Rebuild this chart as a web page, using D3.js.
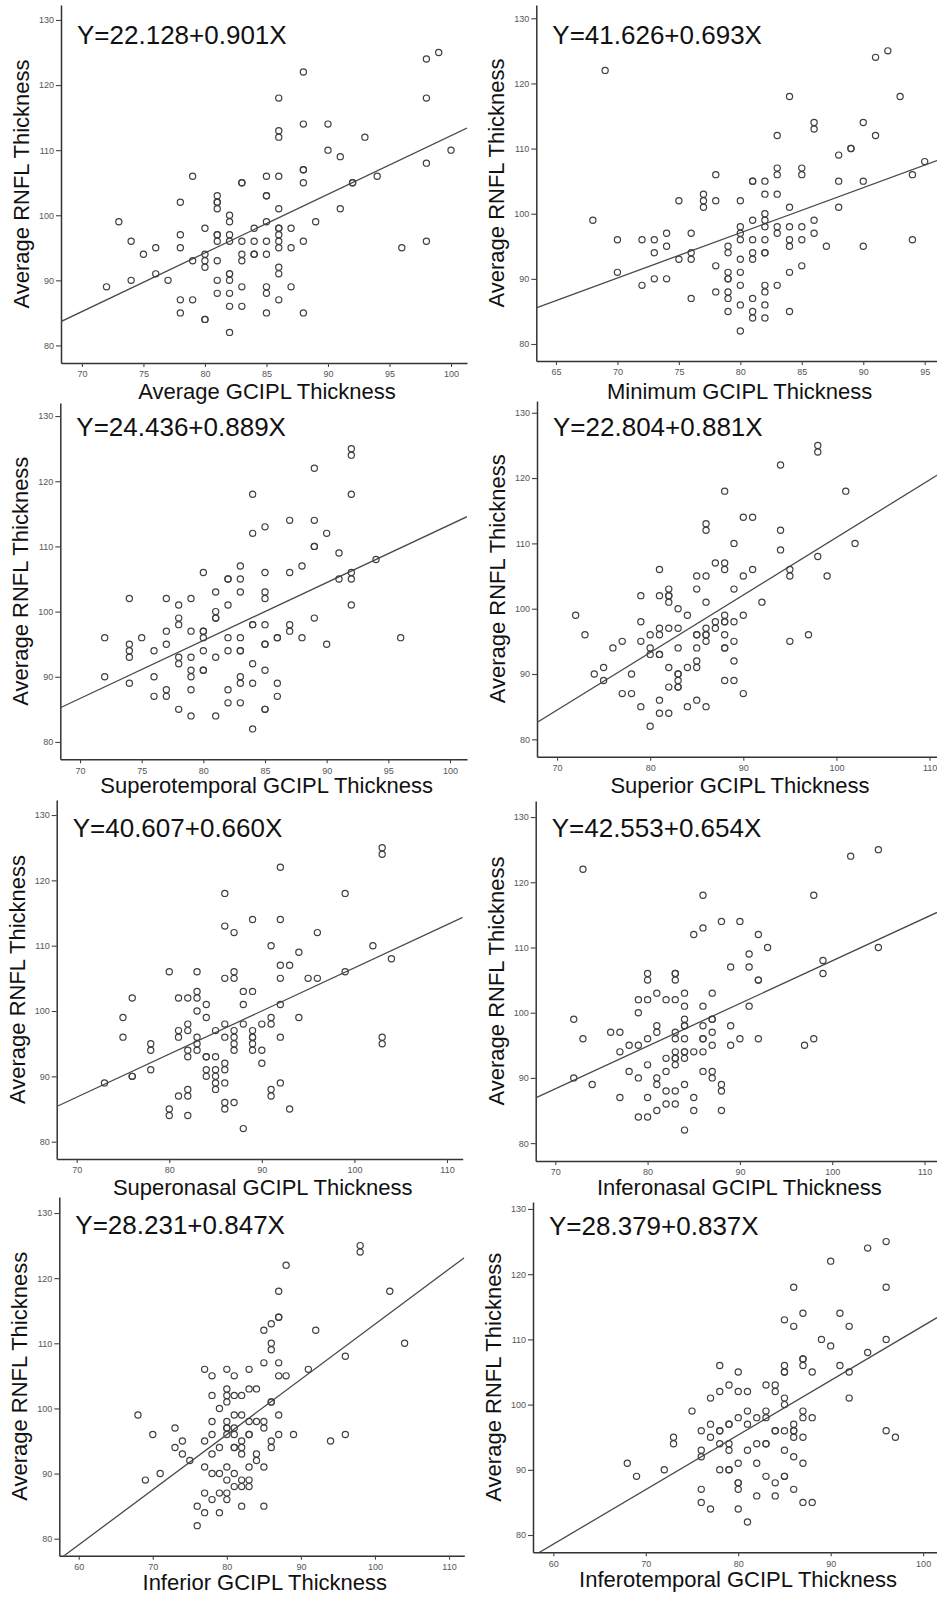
<!DOCTYPE html>
<html><head><meta charset="utf-8">
<script src="https://cdn.jsdelivr.net/npm/d3@7"></script>
<style>
html,body{margin:0;padding:0;background:#fff;}
svg{display:block;font-family:"Liberation Sans",Arial,sans-serif;}
</style></head>
<body><svg id="c" width="937" height="1597"></svg>
<script>
// ---------- data ----------
const xLabels = ["Average GCIPL Thickness","Minimum GCIPL Thickness","Superotemporal GCIPL Thickness","Superior GCIPL Thickness","Superonasal GCIPL Thickness","Inferonasal GCIPL Thickness","Inferior GCIPL Thickness","Inferotemporal GCIPL Thickness"];
const yLabel = "Average RNFL Thickness";
const intercepts = [22.128, 41.626, 24.436, 22.804, 40.607, 42.553, 28.231, 28.379];
const slopes = [0.901, 0.693, 0.889, 0.881, 0.660, 0.654, 0.847, 0.837];
const equations = ["Y=22.128+0.901X","Y=41.626+0.693X","Y=24.436+0.889X","Y=22.804+0.881X","Y=40.607+0.660X","Y=42.553+0.654X","Y=28.231+0.847X","Y=28.379+0.837X"];
const yTicks = [80, 90, 100, 110, 120, 130];
const xTicksSets = [
  [70,75,80,85,90,95,100],[65,70,75,80,85,90,95],[70,75,80,85,90,95,100],[70,80,90,100,110],
  [70,80,90,100,110],[70,80,90,100,110],[60,70,80,90,100,110],[60,70,80,90,100]
];
const averagePts = [[72,89],[73,99],[74,96],[74,90],[75,94],[76,95],[76,91],[77,90],[78,102],[78,97],[78,95],[78,87],[78,85],[79,106],[79,93],[79,87],[80,98],[80,94],[80,93],[80,92],[80,84],[80,84],[81,103],[81,102],[81,102],[81,101],[81,97],[81,97],[81,96],[81,93],[81,90],[81,88],[82,100],[82,99],[82,97],[82,96],[82,91],[82,91],[82,90],[82,88],[82,86],[82,82],[83,105],[83,105],[83,96],[83,94],[83,93],[83,89],[83,86],[84,98],[84,96],[84,94],[84,94],[85,106],[85,103],[85,103],[85,99],[85,96],[85,94],[85,89],[85,88],[85,85],[86,118],[86,113],[86,112],[86,106],[86,101],[86,98],[86,98],[86,97],[86,96],[86,95],[86,92],[86,91],[86,87],[87,98],[87,95],[87,89],[88,122],[88,114],[88,107],[88,107],[88,105],[88,96],[88,85],[89,99],[90,114],[90,110],[91,109],[91,101],[92,105],[92,105],[93,112],[94,106],[96,95],[98,124],[98,118],[98,108],[98,96],[99,125],[100,110]];
const minimumPts = [[68,99],[69,122],[70,96],[70,91],[72,96],[72,89],[73,96],[73,94],[73,90],[74,97],[74,95],[74,90],[75,102],[75,93],[76,97],[76,94],[76,93],[76,87],[77,103],[77,102],[77,101],[78,106],[78,102],[78,92],[78,88],[79,95],[79,94],[79,91],[79,90],[79,90],[79,88],[79,87],[79,85],[80,102],[80,98],[80,97],[80,96],[80,93],[80,91],[80,89],[80,86],[80,82],[81,105],[81,105],[81,99],[81,96],[81,94],[81,93],[81,87],[81,85],[81,84],[82,105],[82,103],[82,100],[82,99],[82,98],[82,96],[82,94],[82,94],[82,89],[82,88],[82,86],[82,84],[83,112],[83,107],[83,106],[83,103],[83,98],[83,97],[83,89],[84,118],[84,101],[84,98],[84,96],[84,95],[84,91],[84,85],[85,107],[85,106],[85,98],[85,96],[85,92],[86,114],[86,113],[86,99],[86,97],[87,95],[88,109],[88,105],[88,101],[89,110],[89,110],[90,114],[90,105],[90,95],[91,124],[91,112],[92,125],[93,118],[94,106],[94,96],[95,108]];
const superotemporalPts = [[72,96],[72,90],[74,102],[74,95],[74,94],[74,93],[74,89],[75,96],[76,94],[76,90],[76,87],[77,102],[77,97],[77,95],[77,88],[77,87],[78,101],[78,99],[78,98],[78,93],[78,92],[78,85],[79,102],[79,97],[79,93],[79,91],[79,90],[79,88],[79,84],[80,106],[80,97],[80,97],[80,96],[80,94],[80,91],[80,91],[81,103],[81,100],[81,99],[81,99],[81,93],[81,84],[82,105],[82,105],[82,101],[82,96],[82,94],[82,88],[82,86],[83,107],[83,105],[83,103],[83,96],[83,94],[83,94],[83,90],[83,89],[83,86],[84,118],[84,112],[84,98],[84,98],[84,92],[84,89],[84,82],[85,113],[85,106],[85,103],[85,102],[85,98],[85,95],[85,95],[85,91],[85,85],[85,85],[86,96],[86,96],[86,89],[86,87],[87,114],[87,106],[87,98],[87,97],[88,107],[88,96],[89,122],[89,114],[89,110],[89,110],[89,99],[90,112],[90,95],[91,109],[91,105],[92,125],[92,124],[92,118],[92,106],[92,105],[92,101],[94,108],[96,96]];
const superiorPts = [[72,99],[73,96],[74,90],[75,91],[75,89],[76,94],[77,95],[77,87],[78,90],[78,87],[79,102],[79,98],[79,95],[79,85],[80,96],[80,94],[80,93],[80,82],[81,106],[81,102],[81,97],[81,96],[81,93],[81,93],[81,86],[81,84],[82,103],[82,102],[82,102],[82,101],[82,97],[82,91],[82,88],[82,84],[83,100],[83,97],[83,94],[83,90],[83,90],[83,89],[83,88],[83,88],[84,99],[84,91],[84,85],[85,105],[85,103],[85,96],[85,96],[85,94],[85,92],[85,91],[85,86],[86,113],[86,112],[86,105],[86,101],[86,97],[86,96],[86,96],[86,95],[86,85],[87,107],[87,98],[87,97],[88,118],[88,107],[88,106],[88,99],[88,98],[88,98],[88,96],[88,94],[88,94],[88,89],[89,110],[89,103],[89,98],[89,95],[89,92],[89,89],[90,114],[90,105],[90,99],[90,87],[91,114],[91,106],[92,101],[94,122],[94,112],[94,109],[95,106],[95,105],[95,95],[97,96],[98,125],[98,124],[98,108],[99,105],[101,118],[102,110]];
const superonasalPts = [[73,89],[75,99],[75,96],[76,102],[76,90],[76,90],[78,95],[78,94],[78,91],[80,106],[80,85],[80,84],[81,102],[81,97],[81,96],[81,87],[82,102],[82,98],[82,97],[82,94],[82,93],[82,88],[82,87],[82,84],[83,106],[83,103],[83,102],[83,100],[83,96],[83,95],[83,94],[84,101],[84,99],[84,93],[84,93],[84,91],[84,90],[85,97],[85,93],[85,91],[85,90],[85,89],[85,88],[86,118],[86,113],[86,105],[86,98],[86,96],[86,92],[86,91],[86,89],[86,86],[86,85],[87,112],[87,106],[87,105],[87,97],[87,96],[87,95],[87,94],[87,86],[88,103],[88,101],[88,98],[88,82],[89,114],[89,103],[89,97],[89,96],[89,96],[89,95],[89,94],[90,98],[90,94],[90,92],[91,110],[91,99],[91,98],[91,88],[91,87],[92,122],[92,114],[92,107],[92,105],[92,101],[92,96],[92,89],[93,107],[93,85],[94,109],[94,99],[95,105],[96,112],[96,105],[99,118],[99,106],[102,110],[103,125],[103,124],[103,96],[103,95],[104,108]];
const inferonasalPts = [[72,99],[72,90],[73,122],[73,96],[74,89],[76,97],[77,97],[77,94],[77,87],[78,95],[78,91],[79,102],[79,100],[79,95],[79,90],[79,84],[80,106],[80,105],[80,102],[80,96],[80,92],[80,87],[80,84],[81,103],[81,98],[81,97],[81,90],[81,89],[81,85],[82,102],[82,93],[82,91],[82,88],[82,86],[83,106],[83,106],[83,105],[83,102],[83,97],[83,96],[83,94],[83,93],[83,93],[83,92],[83,88],[83,86],[84,103],[84,101],[84,99],[84,98],[84,98],[84,96],[84,94],[84,94],[84,93],[84,89],[84,82],[85,112],[85,94],[85,87],[85,85],[86,118],[86,113],[86,101],[86,98],[86,96],[86,96],[86,94],[86,91],[87,103],[87,99],[87,99],[87,97],[87,95],[87,91],[87,90],[88,114],[88,89],[88,88],[88,85],[89,107],[89,98],[89,95],[90,114],[90,96],[91,109],[91,107],[91,101],[92,112],[92,105],[92,105],[92,96],[93,110],[97,95],[98,118],[98,96],[99,108],[99,106],[102,124],[105,125],[105,110]];
const inferiorPts = [[68,99],[69,89],[70,96],[71,90],[73,97],[73,94],[74,95],[74,93],[75,92],[76,85],[76,82],[77,106],[77,95],[77,91],[77,87],[77,84],[78,105],[78,102],[78,98],[78,96],[78,93],[78,90],[78,86],[79,100],[79,94],[79,90],[79,87],[79,84],[80,106],[80,103],[80,102],[80,101],[80,98],[80,97],[80,97],[80,96],[80,91],[80,89],[80,87],[80,86],[81,105],[81,102],[81,99],[81,97],[81,96],[81,94],[81,94],[81,90],[81,88],[82,102],[82,99],[82,95],[82,94],[82,93],[82,89],[82,88],[82,85],[83,106],[83,103],[83,98],[83,96],[83,96],[83,91],[83,89],[83,88],[84,103],[84,98],[84,93],[84,92],[85,112],[85,107],[85,98],[85,97],[85,91],[85,85],[86,113],[86,110],[86,109],[86,101],[86,101],[86,95],[86,94],[87,118],[87,114],[87,114],[87,107],[87,105],[87,99],[87,96],[88,122],[88,105],[89,96],[91,106],[92,112],[94,95],[96,108],[96,96],[98,125],[98,124],[102,118],[104,110]];
const inferotemporalPts = [[68,91],[69,89],[72,90],[73,95],[73,94],[75,99],[76,96],[76,93],[76,92],[76,87],[76,85],[77,101],[77,97],[77,95],[77,84],[78,106],[78,102],[78,96],[78,96],[78,94],[78,90],[79,103],[79,97],[79,97],[79,94],[79,93],[79,90],[79,90],[80,105],[80,102],[80,98],[80,91],[80,88],[80,88],[80,87],[80,84],[81,102],[81,99],[81,97],[81,93],[81,82],[82,98],[82,94],[82,91],[82,86],[83,103],[83,99],[83,98],[83,94],[83,94],[83,89],[84,103],[84,102],[84,96],[84,96],[84,88],[84,86],[85,113],[85,106],[85,105],[85,105],[85,101],[85,100],[85,96],[85,93],[85,89],[85,89],[86,118],[86,112],[86,97],[86,96],[86,96],[86,95],[86,92],[86,87],[87,114],[87,107],[87,107],[87,106],[87,99],[87,98],[87,95],[87,91],[87,85],[88,105],[88,98],[88,85],[89,110],[90,122],[90,109],[91,114],[91,106],[92,112],[92,105],[92,101],[94,124],[94,108],[96,125],[96,118],[96,110],[96,96],[97,95]];
const pointSets = [averagePts, minimumPts, superotemporalPts, superiorPts, superonasalPts, inferonasalPts, inferiorPts, inferotemporalPts];

// ---------- layout (pixel geometry of each panel) ----------
const layout = [
  {x0:61,   x1:467,   top:5,    bot:363,    xd:[68.3,101.3],  yd:[77.3,132.3],   eqY:43.5,  labY:399},
  {x0:536.3,x1:937,   top:5,    bot:361,    xd:[63.4,96.0],   yd:[77.39,132.04], eqY:43.5,  labY:399},
  {x0:60.3, x1:467,   top:403,  bot:759.3,  xd:[68.4,101.38], yd:[77.34,132.0],  eqY:436,   labY:793},
  {x0:537,  x1:937,   top:401,  bot:756.7,  xd:[67.85,110.8], yd:[77.34,131.8],  eqY:436,   labY:793},
  {x0:56.7, x1:462.7, top:800,  bot:1159,   xd:[67.84,111.7], yd:[77.35,132.3],  eqY:836.5, labY:1195},
  {x0:535.7,x1:937,   top:801,  bot:1161,   xd:[67.88,111.35],yd:[77.26,132.46], eqY:836.5, labY:1195},
  {x0:59.3, x1:464.3, top:1197, bot:1555.7, xd:[57.38,112.06],yd:[77.39,132.46], eqY:1233.5,labY:1590},
  {x0:533,  x1:937,   top:1202, bot:1552.3, xd:[57.8,101.5],  yd:[77.35,131.07], eqY:1234.5,labY:1587}
];

const svg = d3.select("#c");
const defs = svg.append("defs");

layout.forEach((L, i) => {
  const x = d3.scaleLinear().domain(L.xd).range([L.x0, L.x1]);
  const y = d3.scaleLinear().domain(L.yd).range([L.bot, L.top]);
  const g = svg.append("g");

  defs.append("clipPath").attr("id", "clip" + i)
    .append("rect").attr("x", L.x0).attr("y", L.top)
    .attr("width", L.x1 - L.x0).attr("height", L.bot - L.top);

  const ya = g.append("g").attr("transform", `translate(${L.x0},0)`)
    .call(d3.axisLeft(y).tickValues(yTicks).tickSize(5).tickSizeOuter(0).tickPadding(2));
  const xa = g.append("g").attr("transform", `translate(0,${L.bot})`)
    .call(d3.axisBottom(x).tickValues(xTicksSets[i]).tickSize(4).tickSizeOuter(0).tickPadding(4));
  [ya, xa].forEach(a => {
    a.select(".domain").attr("stroke", "#333").attr("stroke-width", 1.5);
    a.selectAll(".tick line").attr("stroke", "#444").attr("stroke-width", 1.1);
    a.selectAll(".tick text").attr("fill", "#555").attr("font-size", "9px")
      .attr("font-family", '"Liberation Sans",Arial,sans-serif');
  });

  const lineData = L.xd.map(v => [v, intercepts[i] + slopes[i] * v]);
  g.append("path")
    .attr("clip-path", `url(#clip${i})`)
    .attr("d", d3.line().x(d => x(d[0])).y(d => y(d[1]))(lineData))
    .attr("fill", "none").attr("stroke", "#4a4a4a").attr("stroke-width", 1.3);

  g.append("g").selectAll("circle").data(pointSets[i]).join("circle")
    .attr("cx", d => x(d[0])).attr("cy", d => y(d[1])).attr("r", 3.1)
    .attr("fill", "none").attr("stroke", "#3f3f3f").attr("stroke-width", 1.2);

  g.append("text").attr("x", L.x0 + 16).attr("y", L.eqY)
    .attr("font-size", "26px").attr("fill", "#111").text(equations[i]);

  g.append("text").attr("x", (L.x0 + L.x1) / 2 + 3).attr("y", L.labY)
    .attr("text-anchor", "middle").attr("font-size", "22px").attr("fill", "#111").text(xLabels[i]);

  g.append("text")
    .attr("transform", `translate(${L.x0 - 32},${(L.top + L.bot) / 2}) rotate(-90)`)
    .attr("text-anchor", "middle").attr("font-size", "22px").attr("fill", "#111").text(yLabel);
});
</script>
</body></html>
